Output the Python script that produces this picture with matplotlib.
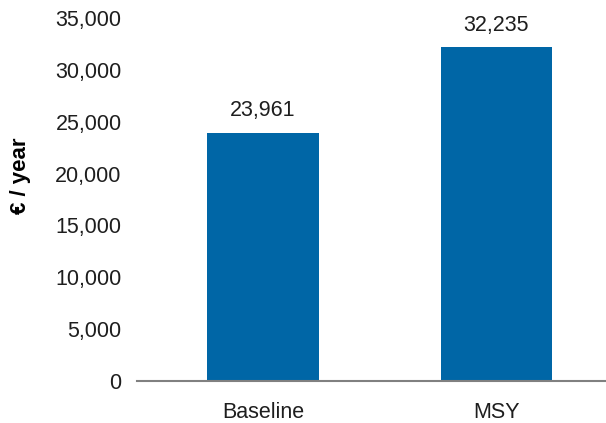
import matplotlib
matplotlib.use("Agg")
import matplotlib.pyplot as plt
from matplotlib.ticker import FuncFormatter

categories = ["Baseline", "MSY"]
values = [23961, 32235]
yticks = [0, 5000, 10000, 15000, 20000, 25000, 30000, 35000]

plt.rcParams['font.family'] = ['Liberation Sans', 'DejaVu Sans']
txt = '#1e1e1e'
fs = 15.5

fig = plt.figure(figsize=(6.06, 4.23), dpi=100)
ax = fig.add_axes([0.226, 0.0993, 0.774, 0.858])
x = range(len(categories))
bars = ax.bar(x, values, width=0.476, color='#0066a6', zorder=2)
for b, v in zip(bars, values):
    ax.annotate(f"{v:,}", (b.get_x() + b.get_width() / 2, v), xytext=(0, 8),
                textcoords='offset points', ha='center', va='bottom', fontsize=fs, color=txt)

ax.set_xlim(-0.54, 1.47)
ax.set_ylim(0, 35000)
ax.set_yticks(yticks)
ax.yaxis.set_major_formatter(FuncFormatter(lambda v, p: f"{int(v):,}"))
ax.set_xticks(list(x))
ax.set_xticklabels(categories)
ax.tick_params(axis='y', length=0, pad=11, labelsize=fs, labelcolor=txt)
ax.tick_params(axis='x', length=0, pad=15, labelsize=fs, labelcolor=txt)
for s in ['top', 'right', 'left']:
    ax.spines[s].set_visible(False)
ax.spines['bottom'].set_color('#808080')
ax.spines['bottom'].set_linewidth(1.5)
ax.set_ylabel("€ / year", fontsize=16, fontweight='bold', color='#000000')
ax.yaxis.set_label_coords(-0.225, 0.565)

fig.savefig("out.png", dpi=100)
